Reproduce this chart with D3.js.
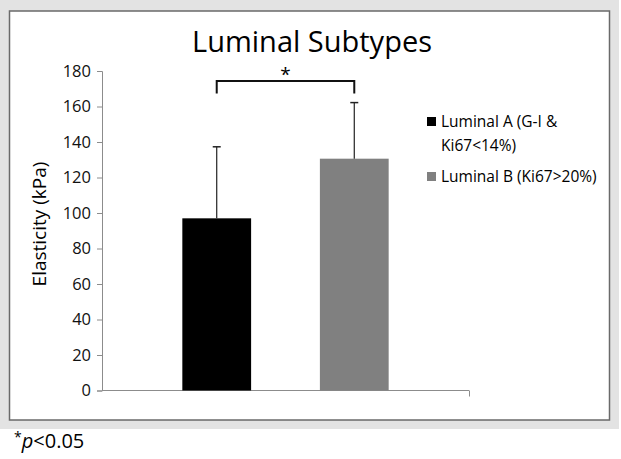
<!DOCTYPE html>
<html>
<head>
<meta charset="utf-8">
<script src="https://cdn.jsdelivr.net/npm/d3@7"></script>
<style>
  body { margin: 0; background: #fff; }
  text { font-family: "Open Sans", "Noto Sans", sans-serif; }
</style>
</head>
<body>
<div id="chart"></div>
<script>
// data
const SERIES = ["Luminal A (G-I & Ki67<14%)", "Luminal B (Ki67>20%)"]
const LEGEND_LINES = [["Luminal A (G-I &", "Ki67<14%)"], ["Luminal B (Ki67>20%)"]]
const MEANS = [97, 130.6]
const ERR_UP = [40.3, 31.6]
const Y_TICKS = [0, 20, 40, 60, 80, 100, 120, 140, 160, 180]
const COLORS = ["#000000", "#808080"]

const WIDTH = 621, HEIGHT = 459
const MARGIN = { left: 102, right: 469, top: 71, bottom: 390.5 }

let svg = d3.select("#chart").append("svg")
    .attr("width", WIDTH)
    .attr("height", HEIGHT)

// grey frame + white panel
svg.append("rect").attr("x", 0).attr("y", 0).attr("width", 619).attr("height", 429).attr("fill", "#e3e3e3")
svg.append("rect").attr("x", 9.5).attr("y", 11).attr("width", 600).attr("height", 409)
    .attr("fill", "#fff").attr("stroke", "#6a6a6a").attr("stroke-width", 1.5)

// scales
let y = d3.scaleLinear().domain([0, 180]).range([MARGIN.bottom, MARGIN.top])
let x0 = d3.scaleBand().domain(["Luminal"]).range([MARGIN.left, MARGIN.right]).paddingOuter(0.167)
let x1 = d3.scaleBand().domain(SERIES).range([0, x0.bandwidth()]).paddingInner(0.5).paddingOuter(0.25)
let color = d3.scaleOrdinal().domain(SERIES).range(COLORS)

// y axis
let yAxis = svg.append("g")
    .attr("transform", "translate(" + MARGIN.left + ",0)")
    .call(d3.axisLeft(y).tickValues(Y_TICKS).tickSize(5).tickPadding(6))
yAxis.selectAll("path, line").attr("stroke", "#8c8c8c")
yAxis.selectAll("text").attr("font-size", 16.5).attr("fill", "#111")
    .style("font-family", "'Open Sans', sans-serif")

// x axis (no labels, right end tick)
let xAxis = svg.append("g")
    .attr("transform", "translate(0," + MARGIN.bottom + ")")
    .call(d3.axisBottom(d3.scaleLinear().domain([0, 1]).range([MARGIN.left, MARGIN.right])).tickValues([1]).tickSize(6).tickFormat(""))
xAxis.selectAll("path").attr("stroke", "#8c8c8c").attr("d", "M" + MARGIN.left + ",0H" + MARGIN.right)
xAxis.selectAll("line").attr("stroke", "#8c8c8c")

// bars
let g = svg.append("g").attr("transform", "translate(" + x0("Luminal") + ",0)")
g.selectAll("rect.bar")
    .data(SERIES)
    .enter()
    .append("rect")
    .attr("class", "bar")
    .attr("x", d => x1(d))
    .attr("width", x1.bandwidth())
    .attr("y", (d, i) => y(MEANS[i]))
    .attr("height", (d, i) => y(0) - y(MEANS[i]))
    .attr("fill", d => color(d))

// error bars (upper only)
g.selectAll("line.err")
    .data(SERIES)
    .enter()
    .append("line")
    .attr("x1", d => x1(d) + x1.bandwidth() / 2)
    .attr("x2", d => x1(d) + x1.bandwidth() / 2)
    .attr("y1", (d, i) => y(MEANS[i]))
    .attr("y2", (d, i) => y(MEANS[i] + ERR_UP[i]))
    .attr("stroke", "#222").attr("stroke-width", 1.2)
g.selectAll("line.cap")
    .data(SERIES)
    .enter()
    .append("line")
    .attr("x1", d => x1(d) + x1.bandwidth() / 2 - 4)
    .attr("x2", d => x1(d) + x1.bandwidth() / 2 + 4)
    .attr("y1", (d, i) => y(MEANS[i] + ERR_UP[i]))
    .attr("y2", (d, i) => y(MEANS[i] + ERR_UP[i]))
    .attr("stroke", "#222").attr("stroke-width", 1.5)

// significance bracket
let cxA = x0("Luminal") + x1(SERIES[0]) + x1.bandwidth() / 2
let cxB = x0("Luminal") + x1(SERIES[1]) + x1.bandwidth() / 2
svg.append("path")
    .attr("d", "M" + cxA + ",93.5V81H" + cxB + "V93.5")
    .attr("fill", "none").attr("stroke", "#111").attr("stroke-width", 2)
svg.append("text")
    .attr("x", (cxA + cxB) / 2).attr("y", 81)
    .attr("text-anchor", "middle").attr("font-size", 19)
    .text("*")

// title
svg.append("text")
    .attr("x", 312).attr("y", 52)
    .attr("text-anchor", "middle").attr("font-size", 29)
    .attr("fill", "#000")
    .text("Luminal Subtypes")

// y label
svg.append("text")
    .attr("transform", "translate(46,224) rotate(-90)")
    .attr("text-anchor", "middle").attr("font-size", 19)
    .text("Elasticity (kPa)")

// legend
let legY = [127, 182]
let legend = svg.selectAll("g.leg")
    .data(SERIES)
    .enter()
    .append("g")
    .attr("transform", (d, i) => "translate(427," + legY[i] + ")")
legend.append("rect")
    .attr("x", 0).attr("y", -10).attr("width", 9).attr("height", 9)
    .attr("fill", d => color(d))
legend.each(function (d, i) {
    LEGEND_LINES[i].forEach((line, j) => {
        d3.select(this).append("text")
            .attr("x", 14).attr("y", j * 24)
            .attr("font-size", 15.5)
            .text(line)
    })
})

// footnote
let note = svg.append("text").attr("x", 14).attr("y", 448).attr("font-size", 20)
note.append("tspan").attr("dy", -6).attr("font-size", 14).text("*")
note.append("tspan").attr("dy", 6).attr("font-style", "italic").text("p")
note.append("tspan").text("<0.05")
</script>
</body>
</html>
